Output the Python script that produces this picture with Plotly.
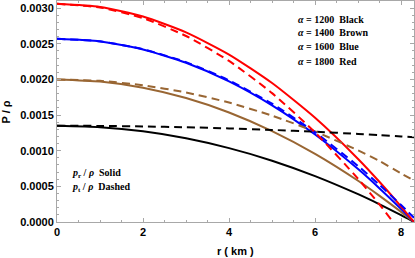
import plotly.graph_objects as go

r = [0, 1, 2, 3, 4, 5, 6, 7, 7.5, 8, 8.3]

# alpha = 1200 (black)
pr_1200 = [0.001350, 0.001330, 0.001272, 0.001174, 0.001036, 0.000860, 0.000644, 0.000390, 0.000248, 0.000096, 0.0]
pt_1200 = [0.001350, 0.001348, 0.001341, 0.001329, 0.001313, 0.001292, 0.001266, 0.001236, 0.001219, 0.001201, 0.001190]
# alpha = 1400 (brown)
pr_1400 = [0.002000, 0.001971, 0.001884, 0.001739, 0.001536, 0.001274, 0.000955, 0.000578, 0.000367, 0.000142, 0.0]
pt_1400 = [0.002000, 0.001980, 0.001918, 0.001817, 0.001675, 0.001492, 0.001269, 0.001004, 0.000855, 0.000681, 0.000580]
# alpha = 1600 (blue)
pr_1600 = [0.002570, 0.002533, 0.002421, 0.002234, 0.001973, 0.001637, 0.001227, 0.000742, 0.000471, 0.000182, 0.0]
pt_1600 = [0.002570, 0.002534, 0.002424, 0.002242, 0.001987, 0.001659, 0.001258, 0.000785, 0.000520, 0.000238, 0.000060]
# alpha = 1800 (red)
pr_1800 = [0.003060, 0.003016, 0.002882, 0.002660, 0.002349, 0.001949, 0.001461, 0.000884, 0.000561, 0.000217, 0.0]
pt_1800 = [0.003060, 0.003010, 0.002860, 0.002609, 0.002259, 0.001808, 0.001257, 0.000606, 0.000243, -0.000145, -0.000390]

series = [
    (pr_1200, "#000000", "solid"),
    (pr_1400, "#996633", "solid"),
    (pr_1600, "#0000ff", "solid"),
    (pr_1800, "#ff0000", "solid"),
    (pt_1200, "#000000", "dash"),
    (pt_1400, "#996633", "dash"),
    (pt_1600, "#0000ff", "dash"),
    (pt_1800, "#ff0000", "dash"),
]

fig = go.Figure()
for vals, col, dash in series:
    fig.add_trace(go.Scatter(
        x=r, y=vals, mode="lines",
        line=dict(color=col, width=2, dash="8px,5px" if dash == "dash" else "solid", shape="spline", smoothing=0.6),
        showlegend=False, hoverinfo="skip"))

tickfont = dict(family="Liberation Sans", size=11, color="black", weight="bold")
fig.update_xaxes(range=[0, 8.3], tickvals=[0, 2, 4, 6, 8], ticktext=["0", "2", "4", "6", "8"],
                 showgrid=False, zeroline=False, showline=True, linecolor="#a8a8a8", linewidth=1,
                 mirror="ticks", ticks="inside", ticklen=4, tickcolor="#a8a8a8",
                 minor=dict(dtick=0.5, ticks="inside", ticklen=2, tickcolor="#a8a8a8"),
                 tickfont=tickfont, automargin=False)
fig.update_yaxes(range=[0, 0.0031], tickvals=[0, 0.0005, 0.0010, 0.0015, 0.0020, 0.0025, 0.0030],
                 ticktext=["0.0000", "0.0005", "0.0010", "0.0015", "0.0020", "0.0025", "0.0030"],
                 showgrid=False, zeroline=False, showline=True, linecolor="#a8a8a8", linewidth=1,
                 mirror="ticks", ticks="inside", ticklen=4, tickcolor="#a8a8a8",
                 minor=dict(dtick=0.0001, ticks="inside", ticklen=2, tickcolor="#a8a8a8"),
                 tickfont=tickfont, automargin=False)

titlefont = dict(family="Liberation Sans", size=11, color="black", weight="bold")
fig.add_annotation(text="r ( km )", xref="paper", yref="paper", x=0.5, y=-0.095,
                   xanchor="center", yanchor="top", showarrow=False, font=titlefont)
fig.add_annotation(text="P / ρ", xref="paper", yref="paper", x=-0.143, y=0.5, textangle=-90,
                   xanchor="center", yanchor="middle", showarrow=False, font=titlefont)

legend_lines = [
    ("<i>α</i> = 1200  Black", 0.002846),
    ("<i>α</i> = 1400  Brown", 0.002664),
    ("<i>α</i> = 1600  Blue", 0.002467),
    ("<i>α</i> = 1800  Red", 0.002257),
]
afont = dict(family="Liberation Serif", size=10, color="black", weight="bold")
for txt, yy in legend_lines:
    fig.add_annotation(x=5.55, y=yy, text=txt, showarrow=False, xanchor="left", yanchor="middle", font=afont)

fig.add_annotation(x=0.3, y=0.000687, text="<i>p</i><sub>r</sub> / <i>ρ</i>  Solid", showarrow=False,
                   xanchor="left", yanchor="middle", font=afont)
fig.add_annotation(x=0.3, y=0.00049, text="<i>p</i><sub>t</sub> / <i>ρ</i>  Dashed", showarrow=False,
                   xanchor="left", yanchor="middle", font=afont)

fig.update_layout(width=415, height=258, margin=dict(l=57, r=1, t=1, b=36),
                  plot_bgcolor="white", paper_bgcolor="white")
fig.write_html("out.html", config={"displayModeBar": False},
               post_script="document.body.style.margin='0';document.body.style.padding='0';")
